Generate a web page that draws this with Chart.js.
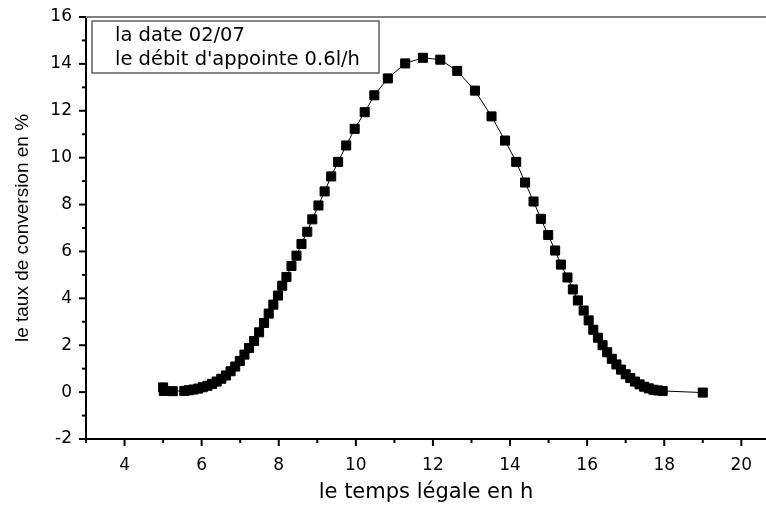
<!DOCTYPE html>
<html>
<head>
<meta charset="utf-8">
<script src="https://cdn.jsdelivr.net/npm/chart.js@4.4.1/dist/chart.umd.min.js"></script>
<style>
  html, body { margin: 0; padding: 0; background: #fff; }
  #wrap { width: 766px; height: 507px; }
</style>
</head>
<body>
<div id="wrap"><canvas id="chart" width="766" height="507"></canvas></div>
<script>
// time of day (h)
const timeH = [
  5.00, 5.02, 5.25,
  5.55, 5.67, 5.79, 5.91, 6.03, 6.15, 6.27, 6.39, 6.51, 6.63, 6.75, 6.87, 6.99,
  7.11, 7.23, 7.36, 7.49, 7.62, 7.74, 7.86, 7.98,
  8.09, 8.20, 8.33, 8.46, 8.59, 8.74, 8.87, 9.03,
  9.19, 9.36, 9.54, 9.75, 9.97, 10.23, 10.48, 10.83,
  11.28, 11.74, 12.19, 12.63, 13.09, 13.52, 13.87, 14.16,
  14.39, 14.61, 14.80, 14.99, 15.17, 15.32, 15.49, 15.63,
  15.76, 15.91, 16.04, 16.16, 16.28, 16.40, 16.52, 16.64,
  16.76, 16.88, 17.00, 17.12, 17.24, 17.36, 17.48, 17.60,
  17.72, 17.84, 17.96, 19.00
];
// conversion rate (%)
const conversionRate = [
  0.20, 0.05, 0.04,
  0.05, 0.08, 0.11, 0.15, 0.21, 0.27, 0.35, 0.45, 0.57, 0.71, 0.89, 1.09, 1.33,
  1.60, 1.88, 2.18, 2.55, 2.95, 3.35, 3.73, 4.12,
  4.54, 4.91, 5.38, 5.82, 6.32, 6.84, 7.37, 7.96,
  8.56, 9.20, 9.82, 10.52, 11.23, 11.94, 12.66, 13.38,
  14.02, 14.26, 14.18, 13.70, 12.86, 11.76, 10.73, 9.82,
  8.94, 8.13, 7.39, 6.70, 6.04, 5.44, 4.89, 4.38,
  3.91, 3.48, 3.06, 2.66, 2.32, 2.00, 1.70, 1.42,
  1.18, 0.96, 0.76, 0.60, 0.45, 0.33, 0.23, 0.16,
  0.10, 0.07, 0.05, -0.02
];

const xTickLabels = [4, 6, 8, 10, 12, 14, 16, 18, 20];
const yTickLabels = [-2, 0, 2, 4, 6, 8, 10, 12, 14, 16];
const legendLines = ['la date 02/07', "le débit d'appointe 0.6l/h"];

const FONT = "'Liberation Sans', Arial, sans-serif";
const WIDE = "'DejaVu Sans', sans-serif";

// origin-style ticks: long on labelled values, short in between + grey top frame
const axisDecor = {
  id: 'axisDecor',
  afterDraw(chart) {
    const { ctx, chartArea, scales: { x, y } } = chart;
    ctx.save();
    ctx.strokeStyle = '#000';
    ctx.lineWidth = 2;
    for (let v = 3; v <= 20; v++) {
      const px = x.getPixelForValue(v);
      const len = xTickLabels.includes(v) ? 7 : 4;
      ctx.beginPath();
      ctx.moveTo(px, chartArea.bottom);
      ctx.lineTo(px, chartArea.bottom + len);
      ctx.stroke();
    }
    for (let v = -2; v <= 16; v++) {
      const py = y.getPixelForValue(v);
      const len = yTickLabels.includes(v) ? 7 : 4;
      ctx.beginPath();
      ctx.moveTo(chartArea.left, py);
      ctx.lineTo(chartArea.left - len, py);
      ctx.stroke();
    }
    ctx.strokeStyle = '#808080';
    ctx.beginPath();
    ctx.moveTo(chartArea.left, chartArea.top);
    ctx.lineTo(chartArea.right, chartArea.top);
    ctx.stroke();

    // text box
    const bx = chartArea.left + 6, by = chartArea.top + 4;
    ctx.strokeStyle = '#606060';
    ctx.lineWidth = 1.5;
    ctx.strokeRect(bx, by, 287, 52);
    ctx.fillStyle = '#000';
    ctx.font = '19.5px ' + WIDE;
    ctx.textBaseline = 'middle';
    ctx.textAlign = 'left';
    legendLines.forEach((line, i) => {
      ctx.fillText(line, bx + 23, by + 15 + i * 24);
    });
    ctx.restore();
  }
};

new Chart(document.getElementById('chart'), {
  type: 'scatter',
  data: {
    datasets: [{
      data: timeH.map((t, i) => ({ x: t, y: conversionRate[i] })),
      showLine: true,
      borderColor: '#000',
      borderWidth: 1,
      backgroundColor: '#000',
      pointStyle: 'rect',
      pointRadius: 6.4,
      pointHoverRadius: 6.4,
      clip: false
    }]
  },
  options: {
    responsive: false,
    animation: false,
    layout: { autoPadding: false, padding: { top: 17, right: 0, left: 0, bottom: 0 } },
    plugins: { legend: { display: false }, tooltip: { enabled: false } },
    scales: {
      x: {
        type: 'linear',
        min: 3,
        max: 20.64,
        afterFit: (s) => {
          s.height = 68;
          s.paddingLeft = 0;
          s.paddingRight = 0;
        },
        afterBuildTicks: (s) => {
          const ticks = [];
          for (let v = 3; v <= 20; v++) ticks.push({ value: v });
          s.ticks = ticks;
        },
        border: { color: '#000', width: 2 },
        grid: { drawOnChartArea: false, tickLength: 7, tickColor: 'rgba(0,0,0,0)' },
        ticks: {
          autoSkip: false,
          maxRotation: 0,
          padding: 9,
          color: '#000',
          font: { family: WIDE, size: 17 },
          callback: (v) => xTickLabels.includes(v) ? String(v) : ''
        },
        title: {
          display: true,
          text: 'le temps légale en h',
          color: '#000',
          font: { family: WIDE, size: 21 },
          padding: { top: 0, bottom: 2 }
        }
      },
      y: {
        min: -2,
        max: 16,
        afterFit: (s) => {
          s.width = 86;
          s.paddingTop = 0;
          s.paddingBottom = 0;
        },
        border: { color: '#000', width: 2 },
        grid: { drawOnChartArea: false, tickLength: 7, tickColor: 'rgba(0,0,0,0)' },
        ticks: {
          stepSize: 1,
          autoSkip: false,
          padding: 7,
          color: '#000',
          font: { family: WIDE, size: 17 },
          callback: (v) => yTickLabels.includes(v) ? String(v) : ''
        },
        title: {
          display: true,
          text: 'le taux de conversion en %',
          color: '#000',
          font: { family: FONT, size: 19 },
          padding: { top: 11, bottom: 0 }
        }
      }
    }
  },
  plugins: [axisDecor]
});
</script>
</body>
</html>
